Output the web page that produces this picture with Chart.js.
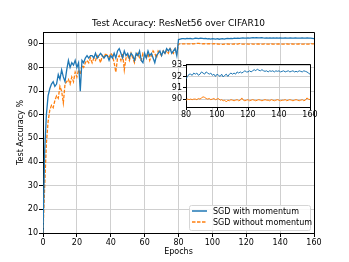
<!DOCTYPE html>
<html>
<head>
<meta charset="utf-8">
<script src="https://cdn.jsdelivr.net/npm/chart.js@4.4.0/dist/chart.umd.min.js"></script>
<style>
  body { margin: 0; background: #fff; }
  #wrap { position: relative; width: 349px; height: 262px; }
  #mainChart { position: absolute; left: 0; top: 0; }
  #insetChart { position: absolute; left: 158px; top: 58px; }
</style>
</head>
<body>
<div id="wrap">
  <canvas id="mainChart" width="349" height="262"></canvas>
  <canvas id="insetChart" width="162" height="62"></canvas>
</div>
<script>
// datos
let chartTitle = "Test Accuracy: ResNet56 over CIFAR10";
let seriesNames = ["SGD with momentum", "SGD without momentum"];

let withMomentum = [
  10, 45, 60, 68, 71, 73, 74, 72, 73, 77, 75, 79, 76, 74, 79, 83, 80, 82, 81, 83,
  80, 82, 70, 83, 82, 84, 85, 84, 85, 85, 84, 86, 84, 85, 86, 85, 84, 85, 85, 83,
  85, 84, 86, 84, 87, 88, 86, 84, 87, 85, 86, 84, 86, 85, 83, 86, 85, 87, 83, 82,
  86, 84, 87, 85, 86, 84, 82, 85, 86, 87, 85, 87, 86, 88, 87, 88, 86, 87, 88, 85,
  91.8, 92.0, 92.2, 92.2, 92.1, 92.3, 92.2, 92.3, 92.1, 92.2, 92.4, 92.3, 92.2, 92.4, 92.3, 92.2, 92.3, 92.1, 92.2, 92.0,
  92.2, 92.1, 92.0, 92.2, 91.95, 92.1, 92.2, 92.0, 92.2, 92.3, 92.2, 92.3, 92.2, 92.4, 92.3, 92.4, 92.3, 92.4, 92.5, 92.4,
  92.4, 92.5, 92.4, 92.5, 92.6, 92.5, 92.65, 92.55, 92.5, 92.6, 92.5, 92.45, 92.5, 92.4, 92.5, 92.45, 92.5, 92.4, 92.5, 92.45,
  92.5, 92.4, 92.45, 92.5, 92.4, 92.45, 92.5, 92.4, 92.45, 92.5, 92.4, 92.45, 92.4, 92.5, 92.45, 92.4, 92.5, 92.45, 92.4, 92.3,
  92.2
];

let withoutMomentum = [
  10, 30, 48, 57, 62, 64, 63, 66, 68, 67, 72, 70, 65, 73, 74, 75, 73, 76, 74, 78,
  76, 79, 77, 81, 80, 82, 83, 82, 84, 82, 84, 83, 85, 84, 82, 85, 84, 86, 85, 84,
  86, 85, 82, 78, 84, 85, 83, 86, 79, 84, 85, 83, 86, 84, 82, 85, 86, 84, 83, 86,
  85, 84, 86, 83, 85, 87, 86, 84, 87, 86, 85, 87, 86, 87, 86, 88, 87, 86, 88, 86,
  89.9, 90.0, 89.95, 90.0, 89.95, 90.0, 90.0, 89.95, 90.05, 90.0, 90.1, 90.2, 90.15, 90.05, 90.0, 90.05, 89.95, 90.0, 90.05, 89.95,
  90.0, 90.05, 89.9, 89.95, 89.85, 89.9, 89.75, 89.9, 89.85, 89.95, 89.9, 89.85, 89.9, 89.95, 89.85, 89.9, 90.1, 89.9, 89.85, 89.9,
  89.95, 89.85, 89.9, 89.95, 89.9, 89.85, 89.9, 89.95, 89.9, 89.85, 89.9, 89.95, 89.9, 89.9, 89.85, 89.95, 89.9, 89.85, 89.9, 89.95,
  89.9, 89.85, 89.9, 89.9, 89.95, 89.85, 89.9, 89.95, 89.9, 89.85, 89.9, 89.95, 89.9, 89.85, 89.9, 89.95, 89.85, 89.9, 90.1, 90.0,
  89.95
];

let xTicks = [0, 20, 40, 60, 80, 100, 120, 140, 160];
let yTicks = [10, 20, 30, 40, 50, 60, 70, 80, 90];
let insetXTicks = [80, 100, 120, 140, 160];
let insetYTicks = [90, 91, 92, 93];

const blue = '#1f77b4';
const orange = '#ff7f0e';
const gridColor = '#cfcfcf';
const fontFam = '"DejaVu Sans", sans-serif';

function toPoints(arr, from) {
    const pts = [];
    for (let i = from; i < arr.length; i++) {
        pts.push({ x: i, y: arr[i] });
    }
    return pts;
}

function fixedTicks(list) {
    return function (scale) {
        scale.ticks = list.map(v => ({ value: v }));
    };
}

// marco superior y derecho (spines)
function drawFrame(chart) {
    const a = chart.chartArea;
    const ctx = chart.ctx;
    const r = Math.round(a.right) + 0.5;
    const t = Math.round(a.top) + 0.5;
    ctx.save();
    ctx.strokeStyle = '#000';
    ctx.lineWidth = 1;
    ctx.beginPath();
    ctx.moveTo(a.left, t);
    ctx.lineTo(r, t);
    ctx.lineTo(r, a.bottom);
    ctx.stroke();
    ctx.restore();
}

// titulo y leyenda dibujados a mano
const extras = {
    id: 'extras',
    afterDraw(chart) {
        drawFrame(chart);
        const ctx = chart.ctx;
        ctx.save();
        ctx.fillStyle = '#000';
        ctx.font = '9px ' + fontFam;
        ctx.textAlign = 'center';
        ctx.textBaseline = 'middle';
        ctx.fillText(chartTitle, 178.5, 24);

        // leyenda
        ctx.fillStyle = 'rgba(255,255,255,0.85)';
        ctx.strokeStyle = '#d6d6d6';
        ctx.lineWidth = 1;
        ctx.beginPath();
        ctx.roundRect(189.5, 205.5, 121, 25, 2);
        ctx.fill();
        ctx.stroke();

        const rows = [211, 222];
        const cols = [blue, orange];
        ctx.font = '8px ' + fontFam;
        ctx.textAlign = 'left';
        for (let i = 0; i < 2; i++) {
            ctx.strokeStyle = cols[i];
            ctx.lineWidth = 1.5;
            ctx.setLineDash(i === 1 ? [3.5, 1.5] : []);
            ctx.beginPath();
            ctx.moveTo(192, rows[i]);
            ctx.lineTo(207, rows[i]);
            ctx.stroke();
            ctx.setLineDash([]);
            ctx.fillStyle = '#000';
            ctx.fillText(seriesNames[i], 213, rows[i] + 0.5);
        }
        ctx.restore();
    }
};

const whiteArea = {
    id: 'whiteArea',
    beforeDraw(chart) {
        const a = chart.chartArea;
        chart.ctx.save();
        chart.ctx.fillStyle = '#fff';
        chart.ctx.fillRect(a.left, a.top, a.right - a.left, a.bottom - a.top);
        chart.ctx.restore();
    },
    afterDraw(chart) {
        drawFrame(chart);
    }
};

Chart.defaults.font.family = fontFam;
Chart.defaults.color = '#000';

var mainChart = new Chart(document.getElementById('mainChart').getContext('2d'), {
    type: 'line',
    data: {
        datasets: [{
            label: seriesNames[0],
            data: toPoints(withMomentum, 0),
            borderColor: blue,
            borderWidth: 1.3,
            pointRadius: 0,
            tension: 0
        }, {
            label: seriesNames[1],
            data: toPoints(withoutMomentum, 0),
            borderColor: orange,
            borderWidth: 1.3,
            borderDash: [3.5, 1.5],
            pointRadius: 0,
            tension: 0
        }]
    },
    options: {
        responsive: false,
        animation: false,
        layout: { padding: { top: 32, right: 35, left: 0, bottom: 0 } },
        plugins: { legend: { display: false }, tooltip: { enabled: false } },
        scales: {
            x: {
                type: 'linear', min: 0, max: 160,
                afterBuildTicks: fixedTicks(xTicks),
                afterFit(scale) { scale.height = 29; },
                grid: { color: gridColor, tickColor: '#000', tickLength: 4 },
                border: { color: '#000', width: 1 },
                ticks: { font: { size: 8 }, padding: 1, maxRotation: 0 },
                title: { display: true, text: 'Epochs', font: { size: 8 }, padding: { top: 0, bottom: 5 } }
            },
            y: {
                type: 'linear', min: 10, max: 95,
                afterBuildTicks: fixedTicks(yTicks),
                afterFit(scale) { scale.width = 43; },
                grid: { color: gridColor, tickColor: '#000', tickLength: 4 },
                border: { color: '#000', width: 1 },
                ticks: { font: { size: 8 }, padding: 1 },
                title: { display: true, text: 'Test Accuracy %', font: { size: 8 }, padding: { top: 16, bottom: 0 } }
            }
        }
    },
    plugins: [extras]
});

var insetChart = new Chart(document.getElementById('insetChart').getContext('2d'), {
    type: 'line',
    data: {
        datasets: [{
            data: toPoints(withMomentum, 80),
            borderColor: blue,
            borderWidth: 1,
            pointRadius: 0,
            tension: 0
        }, {
            data: toPoints(withoutMomentum, 80),
            borderColor: orange,
            borderWidth: 1,
            pointRadius: 0,
            tension: 0
        }]
    },
    options: {
        responsive: false,
        animation: false,
        layout: { padding: { top: 6, right: 10, left: 0, bottom: 0 } },
        plugins: { legend: { display: false }, tooltip: { enabled: false } },
        scales: {
            x: {
                type: 'linear', min: 80, max: 160,
                afterBuildTicks: fixedTicks(insetXTicks),
                afterFit(scale) { scale.height = 13; },
                grid: { color: gridColor, tickColor: '#000', tickLength: 3 },
                border: { color: '#000', width: 1 },
                ticks: { font: { size: 8 }, padding: 0, maxRotation: 0 }
            },
            y: {
                type: 'linear', min: 89.3, max: 93.1,
                afterBuildTicks: fixedTicks(insetYTicks),
                afterFit(scale) { scale.width = 28; },
                grid: { color: gridColor, tickColor: '#000', tickLength: 3 },
                border: { color: '#000', width: 1 },
                ticks: { font: { size: 8 }, padding: 1 }
            }
        }
    },
    plugins: [whiteArea]
});
</script>
</body>
</html>
